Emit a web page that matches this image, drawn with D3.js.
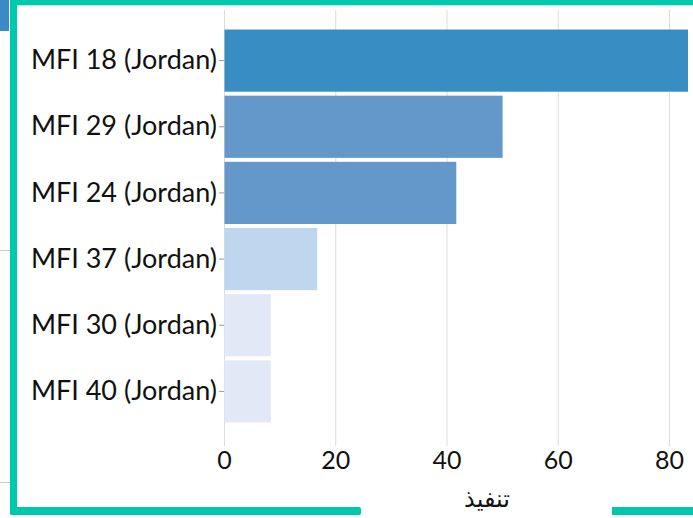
<!DOCTYPE html>
<html>
<head>
<meta charset="utf-8">
<script src="https://cdn.jsdelivr.net/npm/d3@7"></script>
<style>
  body { margin: 0; background: #fff; }
  svg { display: block; }
</style>
</head>
<body>
<div id="chart"></div>
<script>
// data
const categories = ["MFI 18 (Jordan)", "MFI 29 (Jordan)", "MFI 24 (Jordan)", "MFI 37 (Jordan)", "MFI 30 (Jordan)", "MFI 40 (Jordan)"];
const values = [83.33, 50, 41.67, 16.67, 8.33, 8.33];
const xTicks = [0, 20, 40, 60, 80];
const axisTitle = "تنفيذ";

const width = 693;
const height = 518;
const teal = "#00c8ad";
const labelFont = "Lato, 'Open Sans', sans-serif";

const svg = d3.select("#chart").append("svg")
    .attr("width", width)
    .attr("height", height);

// frame pieces
svg.append("rect").attr("x", 0).attr("y", 0).attr("width", 9).attr("height", 31).attr("fill", "#3a8bc4");
svg.append("line").attr("x1", 0).attr("x2", 10).attr("y1", 250.5).attr("y2", 250.5).attr("stroke", "#ccc");
svg.append("line").attr("x1", 0).attr("x2", 10).attr("y1", 482.5).attr("y2", 482.5).attr("stroke", "#ccc");
svg.append("rect").attr("x", 10).attr("y", 0).attr("width", width - 10).attr("height", 5.3).attr("fill", teal);
svg.append("rect").attr("x", 10).attr("y", 0).attr("width", 7).attr("height", 515).attr("rx", 2).attr("fill", teal);
svg.append("rect").attr("x", 10).attr("y", 507).attr("width", 351).attr("height", 8).attr("rx", 2).attr("fill", teal);
svg.append("rect").attr("x", 612).attr("y", 507).attr("width", width - 612).attr("height", 8).attr("fill", teal);

// scales
const x = d3.scaleLinear()
    .domain([0, 80])
    .range([224, 669]);

const y = d3.scaleBand()
    .domain(categories)
    .range([11, 441])
    .paddingInner(0.06)
    .paddingOuter(0.28);

const color = d3.scaleThreshold()
    .domain([12, 30, 60])
    .range(["#e2e9f6", "#bed6ee", "#6497ca", "#388ec3"]);

// grid
svg.append("g")
    .selectAll("line")
    .data(xTicks)
    .join("line")
    .attr("x1", d => x(d) + 0.5)
    .attr("x2", d => x(d) + 0.5)
    .attr("y1", 10)
    .attr("y2", 446)
    .attr("stroke", "#dcdcdc")
    .attr("stroke-width", 1);

// bars
svg.append("g")
    .selectAll("rect")
    .data(values)
    .join("rect")
    .attr("x", x(0) + 0.5)
    .attr("y", (d, i) => y(categories[i]))
    .attr("width", d => x(d) - x(0))
    .attr("height", y.bandwidth())
    .attr("fill", d => color(d));

// y axis
const yAxis = svg.append("g")
    .attr("transform", `translate(${x(0)},0)`)
    .call(d3.axisLeft(y).tickSize(5).tickPadding(2));
yAxis.select(".domain").remove();
yAxis.selectAll(".tick line").attr("stroke", "#999");
yAxis.selectAll(".tick text")
    .attr("font-family", labelFont)
    .attr("font-size", 27)
    .attr("fill", "#111");

// x axis
const xAxis = svg.append("g")
    .attr("transform", "translate(0,446)")
    .call(d3.axisBottom(x).tickValues(xTicks).tickSize(0).tickPadding(5));
xAxis.select(".domain").remove();
xAxis.selectAll(".tick text")
    .attr("font-family", labelFont)
    .attr("font-size", 25)
    .attr("fill", "#111");

// axis title
svg.append("text")
    .attr("x", 487)
    .attr("y", 507)
    .attr("text-anchor", "middle")
    .attr("font-family", "'DejaVu Sans', sans-serif")
    .attr("font-size", 24)
    .attr("fill", "#111")
    .text(axisTitle);
</script>
</body>
</html>
